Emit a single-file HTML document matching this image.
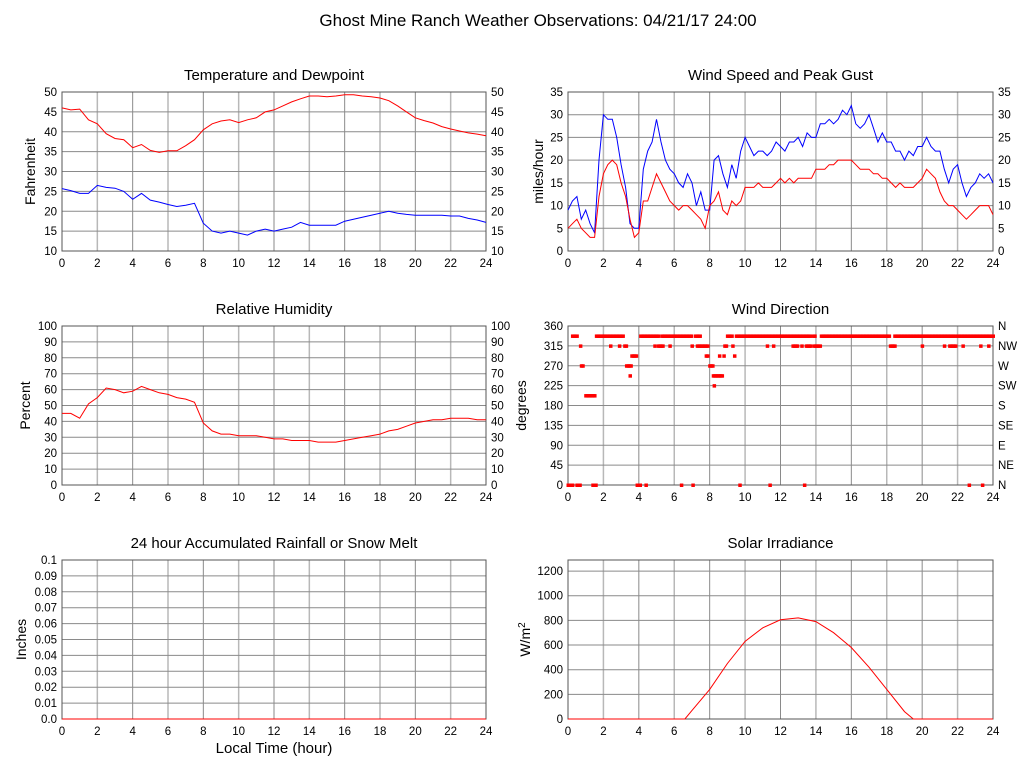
<!DOCTYPE html>
<html><head><meta charset="utf-8"><style>
body{margin:0;background:#fff;}
svg{display:block;font-family:"Liberation Sans",sans-serif;}
</style></head><body>
<svg id="c" width="1027" height="772">
<text x="538" y="26" font-size="17" text-anchor="middle">Ghost Mine Ranch Weather Observations: 04/21/17 24:00</text>
<text x="274" y="753" font-size="15" text-anchor="middle">Local Time (hour)</text>
</svg>
<script>
const hours05 = [0,0.5,1,1.5,2,2.5,3,3.5,4,4.5,5,5.5,6,6.5,7,7.5,8,8.5,9,9.5,10,10.5,11,11.5,12,12.5,13,13.5,14,14.5,15,15.5,16,16.5,17,17.5,18,18.5,19,19.5,20,20.5,21,21.5,22,22.5,23,23.5,24];
const tempF = [46,45.5,45.7,43,42,39.5,38.3,38,36,36.8,35.3,34.8,35.2,35.2,36.5,38,40.5,42,42.7,43,42.3,43,43.5,45,45.5,46.5,47.5,48.3,49,49,48.8,49,49.3,49.3,49,48.8,48.5,47.8,46.5,45,43.5,42.8,42.2,41.3,40.7,40.2,39.7,39.4,39];
const dewF = [25.7,25.2,24.5,24.5,26.5,26,25.8,25,23,24.5,22.8,22.3,21.7,21.2,21.5,22,17,15,14.5,15,14.5,14,15,15.5,15,15.5,16,17.2,16.5,16.5,16.5,16.5,17.5,18,18.5,19,19.5,20,19.5,19.2,19,19,19,19,18.8,18.8,18.2,17.8,17.2];
const rhPct = [45,45,42,51,55,61,60,58,59,62,60,58,57,55,54,52,39,34,32,32,31,31,31,30,29,29,28,28,28,27,27,27,28,29,30,31,32,34,35,37,39,40,41,41,42,42,42,41,41];
const hours025 = Array.from({length:97},(_,i)=>i*0.25);
const gustMph = [9,11,12,7,9,6,4,20,30,29,29,25,19,14,6,5,5,18,22,24,29,24,20,18,17,15,14,17,15,10,13,9,9,20,21,17,14,19,16,22,25,23,21,22,22,21,22,24,23,22,24,24,25,23,26,25,25,28,28,29,28,29,31,30,32,28,27,28,30,27,24,26,24,24,22,22,20,22,21,23,23,25,23,22,22,18,15,18,19,15,12,14,15,17,16,17,15];
const speedMph = [5,6,7,5,4,3,3,12,17,19,20,19,15,12,7,3,4,11,11,14,17,15,13,11,10,9,10,10,9,8,7,5,10,11,13,9,8,11,10,11,14,14,14,15,14,14,14,15,16,15,16,15,16,16,16,16,18,18,18,19,19,20,20,20,20,19,18,18,18,17,17,16,16,15,14,15,14,14,14,15,16,18,17,16,13,11,10,10,9,8,7,8,9,10,10,10,8];
const dirRuns = [[0.25,0.55,337.5],[1.6,3.1,337.5],[4.1,5.1,337.5],[5.3,7.0,337.5],[7.2,7.5,337.5],[9.0,9.3,337.5],[9.5,13.7,337.5],[13.85,13.95,337.5],[14.3,18.2,337.5],[18.45,21.9,337.5],[22.0,24,337.5],
[0.7,0.7,315],[2.4,2.4,315],[2.9,2.9,315],[3.2,3.35,315],[4.9,4.9,315],[5.1,5.35,315],[5.75,5.75,315],[7.0,7.0,315],[7.3,7.9,315],[8.85,9.0,315],[9.3,9.3,315],[11.25,11.25,315],[11.6,11.6,315],[12.7,13.0,315],[13.2,13.2,315],[13.45,13.75,315],[13.9,14.25,315],[18.2,18.5,315],[20.0,20.0,315],[21.25,21.25,315],[21.55,21.95,315],[22.3,22.3,315],[23.3,23.3,315],[23.75,23.75,315],
[3.6,3.9,292.5],[7.8,7.95,292.5],[8.55,8.55,292.5],[8.8,8.8,292.5],[9.4,9.4,292.5],
[0.75,0.9,270],[3.3,3.6,270],[8.0,8.2,270],[3.5,3.5,247.5],[8.2,8.75,247.5],[8.25,8.25,225],[1.0,1.5,202.5],
[0.0,0.3,0],[0.5,0.7,0],[1.4,1.6,0],[3.9,4.1,0],[4.4,4.4,0],[6.4,6.4,0],[7.05,7.05,0],[9.7,9.7,0],[11.4,11.4,0],[13.35,13.35,0],[22.65,22.65,0],[23.4,23.4,0]];
const solarHours = [0,1,2,3,4,5,6,6.6,7,8,9,10,11,12,13,14,15,16,17,18,19,19.5,20,21,22,23,24];
const solarWm2 = [0,0,0,0,0,0,0,0,70,240,450,630,740,805,820,790,700,580,420,240,60,0,0,0,0,0,0];
const rainHours = [0,24];
const rainIn = [0,0];

const NS='http://www.w3.org/2000/svg';
const svg=document.getElementById('c');
function mk(tag,attrs,parent){const e=document.createElementNS(NS,tag);for(const k in attrs)e.setAttribute(k,attrs[k]);(parent||svg).appendChild(e);return e;}

function panel(o){
  const g=mk('g',{});
  
  
  const X=h=>o.x0+(o.x1-o.x0)*h/24;
  const Y=v=>o.y1-(o.y1-o.y0)*(v-o.min)/(o.max-o.min);
  const t=mk('text',{x:(o.x0+o.x1)/2,y:o.y0-12,'font-size':15,'text-anchor':'middle'},g);t.textContent=o.title;
  
  
  for(let h=0;h<=24;h+=2){
    if(h>0&&h<24){const l=mk('line',{x1:X(h),x2:X(h),y1:o.y0,y2:o.y1,stroke:(h%4==0)?'#8a8a8a':'#b8b8b8','stroke-width':(h%4==0)?1:1.5},g);
    }
    const tl=mk('text',{x:X(h),y:o.y1+16,'font-size':11.5,'text-anchor':'middle'},g);tl.textContent=h;
    
  }
  o.ticks.forEach((v,i)=>{
    const y=Y(v);
    if(v>o.min&&v<o.max){const l=mk('line',{x1:o.x0,x2:o.x1,y1:y,y2:y,stroke:'#8a8a8a','stroke-width':1},g);
    }
    const tl=mk('text',{x:o.x0-5,y:y+4,'font-size':11.5,'text-anchor':'end'},g);tl.textContent=o.labels?o.labels[i]:v;
    
    if(o.right){const tr=mk('text',{x:o.x1+5,y:y+4,'font-size':11.5,'text-anchor':'start'},g);tr.textContent=o.right[i];
    }
  });
  const r=mk('rect',{x:o.x0,y:o.y0,width:o.x1-o.x0,height:o.y1-o.y0,fill:'none',stroke:'#555','stroke-width':1},g);
  
  const ax=mk('text',{x:0,y:0,'font-size':14,'text-anchor':'middle',transform:`translate(${o.ax},${(o.y0+o.y1)/2}) rotate(-90)`},g);
  ax.innerHTML=o.axis;
  
  (o.series||[]).forEach(s=>{
    const p=mk('polyline',{points:s.h.map((h,i)=>X(h).toFixed(1)+','+Y(s.v[i]).toFixed(1)).join(' '),fill:'none',stroke:s.c,'stroke-width':1},g);
    
  });
  return {g,X,Y};
}
const L0=62,L1=486,R0=568,R1=993;
const r5=(a,b,s)=>{const o=[];for(let v=a;v<=b+1e-9;v+=s)o.push(+v.toFixed(2));return o;};
const tT=r5(10,50,5);
panel({name:'temperature-panel',title:'Temperature and Dewpoint',x0:L0,x1:L1,y0:92,y1:251,min:10,max:50,ticks:tT,right:tT,axis:'Fahrenheit',ax:35,
  series:[{h:hours05,v:tempF,c:'#ff0000',name:'temperature-line'},{h:hours05,v:dewF,c:'#0000ff',name:'dewpoint-line'}]});
const wT=r5(0,35,5);
panel({name:'wind-speed-panel',title:'Wind Speed and Peak Gust',x0:R0,x1:R1,y0:92,y1:251,min:0,max:35,ticks:wT,right:wT,axis:'miles/hour',ax:543,
  series:[{h:hours025,v:gustMph,c:'#0000ff',name:'gust-line'},{h:hours025,v:speedMph,c:'#ff0000',name:'speed-line'}]});
const hT=r5(0,100,10);
panel({name:'humidity-panel',title:'Relative Humidity',x0:L0,x1:L1,y0:326,y1:485,min:0,max:100,ticks:hT,right:hT,axis:'Percent',ax:30,
  series:[{h:hours05,v:rhPct,c:'#ff0000',name:'humidity-line'}]});
const dT=r5(0,360,45);
const dp=panel({name:'wind-direction-panel',title:'Wind Direction',x0:R0,x1:R1,y0:326,y1:485,min:0,max:360,ticks:dT,right:['N','NE','E','SE','S','SW','W','NW','N'],axis:'degrees',ax:526});
dirRuns.forEach(r=>{
  for(let h=r[0];h<=r[1]+1e-6;h+=1/12){
    const d=mk('rect',{x:dp.X(h)-1.5,y:dp.Y(r[2])-1.5,width:3.5,height:3.5,fill:'#ff0000'},dp.g);
    
    
  }
});
const rT=r5(0,0.1,0.01);
panel({name:'rainfall-panel',title:'24 hour Accumulated Rainfall or Snow Melt',x0:L0,x1:L1,y0:560,y1:719,min:0,max:0.1,ticks:rT,labels:rT.map(v=>v===0?'0.0':String(v)),axis:'Inches',ax:26,
  series:[{h:rainHours,v:rainIn,c:'#ff0000',name:'rainfall-line'}]});
const sT=r5(0,1200,200);
panel({name:'solar-panel',title:'Solar Irradiance',x0:R0,x1:R1,y0:560,y1:719,min:0,max:1290,ticks:sT,axis:'W/m<tspan dy="-5" font-size="10">2</tspan>',ax:530,
  series:[{h:solarHours,v:solarWm2,c:'#ff0000',name:'solar-line'}]});
</script>
</body></html>
